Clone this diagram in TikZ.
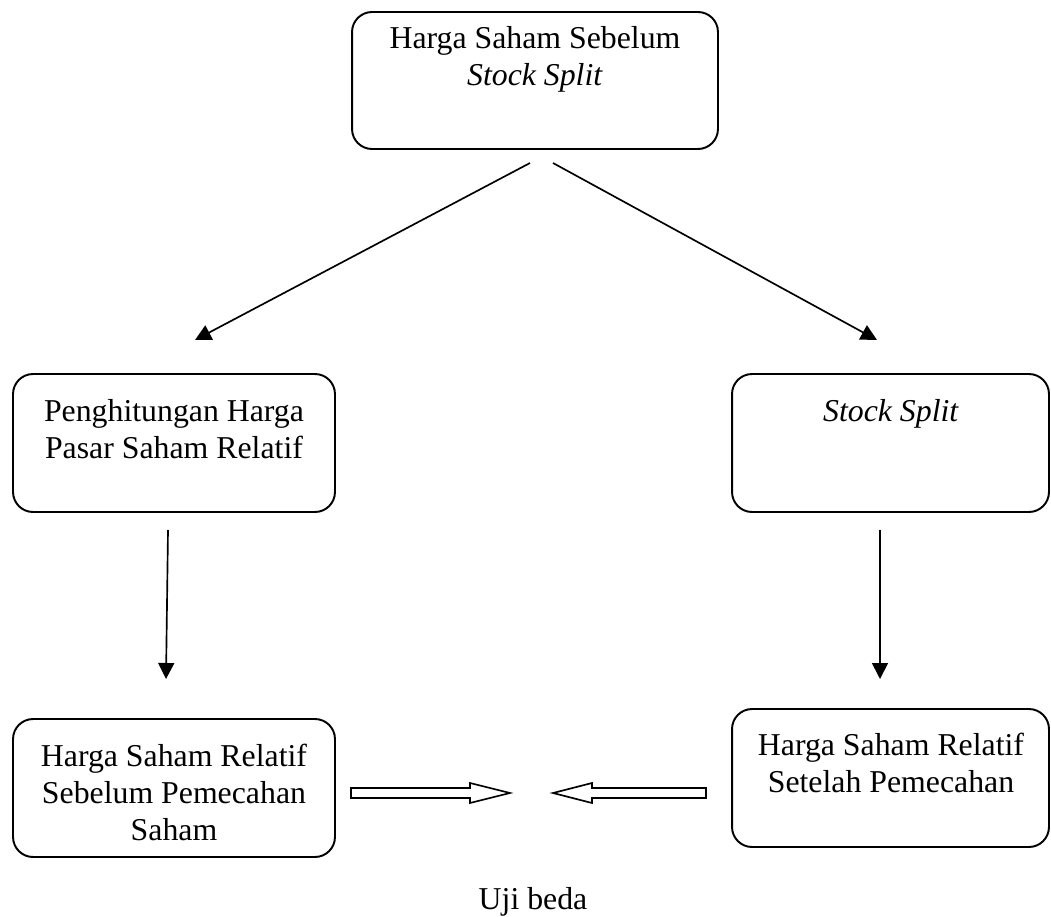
\documentclass[tikz,border=0pt]{standalone}
\usepackage{fontspec}
\setmainfont{Liberation Serif}
\usetikzlibrary{arrows.meta}

\tikzset{
  kotak/.style={draw, line width=1.1pt, rounded corners=0.4cm},
  teks/.style={align=center, inner sep=0pt, anchor=north,
    font=\fontsize{18.1}{21}\selectfont},
  panah/.style={line width=0.95pt, -{Triangle[length=0.32cm,width=0.32cm]}},
  panahkosong/.style={draw, line width=0.95pt, line join=miter}
}

\begin{document}
\begin{tikzpicture}[x=0.02cm, y=-0.02cm]
  \useasboundingbox (0,0) rectangle (1051,916);

  % kotak-kotak
  \node[kotak, minimum width=7.32cm, minimum height=2.74cm] (atas) at (535,80.5) {};
  \node[kotak, minimum width=6.44cm, minimum height=2.76cm] (kiri) at (174,443) {};
  \node[kotak, minimum width=6.34cm, minimum height=2.76cm] (kanan) at (890.5,443) {};
  \node[kotak, minimum width=6.44cm, minimum height=2.76cm] (kiribawah) at (174,788) {};
  \node[kotak, minimum width=6.34cm, minimum height=2.76cm] (kananbawah) at (890.5,778) {};

  % teks
  \node[teks] (atasteks) at (535,26) {Harga Saham Sebelum\\\textit{Stock Split}};
  \node[teks] (kiriteks) at (174,399) {Penghitungan Harga\\Pasar Saham Relatif};
  \node[teks] (kananteks) at (891,399) {\textit{Stock Split}};
  \node[teks] (kiribawahteks) at (174,744) {Harga Saham Relatif\\Sebelum Pemecahan\\Saham};
  \node[teks] (kananbawahteks) at (891,733) {Harga Saham Relatif\\Setelah Pemecahan};
  \node[teks, anchor=base] (ujibeda) at (533,909) {Uji beda};

  % panah
  \coordinate (a1) at (530,163);
  \coordinate (a2) at (195,340);
  \coordinate (b1) at (553,163);
  \coordinate (b2) at (877,340);
  \coordinate (c1) at (168,530);
  \coordinate (c2) at (166,679);
  \coordinate (d1) at (880,530);
  \coordinate (d2) at (880,679);
  \draw[panah] (a1) -- (a2);
  \draw[panah] (b1) -- (b2);
  \draw[panah] (c1) -- (c2);
  \draw[panah] (d1) -- (d2);

  % panah kosong uji beda
  \coordinate (ujikiri) at (351,793);
  \coordinate (ujikanan) at (706,793);
  \draw[panahkosong] (ujikiri) ++(0,-5) -- ++(119,0) -- ++(0,-5) -- ++(40,10)
    -- ++(-40,10) -- ++(0,-5) -- ++(-119,0) -- cycle;
  \draw[panahkosong] (ujikanan) ++(0,-5) -- ++(-114,0) -- ++(0,-5) -- ++(-39,10)
    -- ++(39,10) -- ++(0,-5) -- ++(114,0) -- cycle;
\end{tikzpicture}
\end{document}
